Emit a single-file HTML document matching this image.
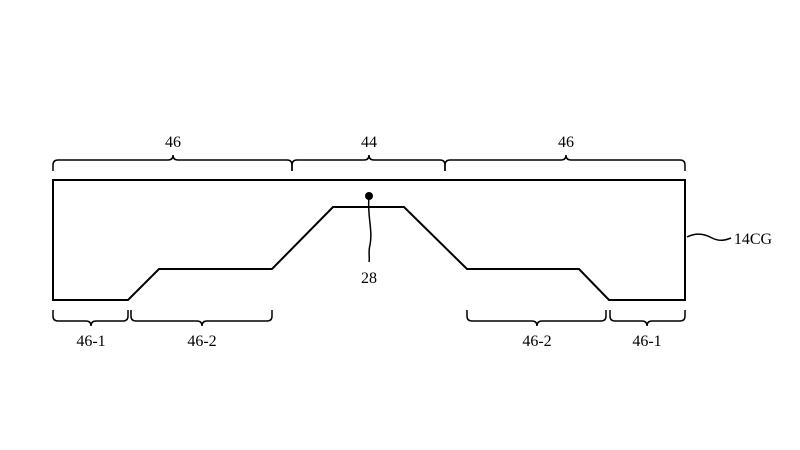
<!DOCTYPE html>
<html><head><meta charset="utf-8"><style>html,body{margin:0;padding:0;background:#fff}svg{display:block}</style></head>
<body>
<svg width="800" height="450" viewBox="0 0 800 450" xmlns="http://www.w3.org/2000/svg">
<g fill="none" stroke="#000" stroke-width="2">
<path d="M53,180 H685 V300 H609 L579,269 H467 L404,207 H333 L272,269 H159 L128,300 H53 Z"/>
</g>
<g fill="none" stroke="#000" stroke-width="1.5">
<!-- top braces -->
<path d="M53,171 V165 Q53,160 58,160 H168 Q173,160 173,155 Q173,160 178,160 H287 Q292,160 292,165 V171"/>
<path d="M292,171 V165 Q292,160 297,160 H364 Q369,160 369,155 Q369,160 374,160 H440 Q445,160 445,165 V171"/>
<path d="M445,171 V165 Q445,160 450,160 H561 Q566,160 566,155 Q566,160 571,160 H680 Q685,160 685,165 V171"/>
<!-- bottom braces -->
<path d="M53,310 V316 Q53,321 58,321 H86 Q91,321 91,326 Q91,321 96,321 H123 Q128,321 128,316 V310"/>
<path d="M131,310 V316 Q131,321 136,321 H197 Q202,321 202,326 Q202,321 207,321 H267 Q272,321 272,316 V310"/>
<path d="M467,310 V316 Q467,321 472,321 H532 Q537,321 537,326 Q537,321 542,321 H601 Q606,321 606,316 V310"/>
<path d="M610,310 V316 Q610,321 615,321 H642 Q647,321 647,326 Q647,321 652,321 H680 Q685,321 685,316 V310"/>
<!-- leaders -->
<path d="M369,197 C367,215 373,230 370,245 C368,252 370,258 369,262"/>
<path d="M687,237 C697,232 705,234 712,238 C720,242 726,240 731,238"/>
</g>
<circle cx="369" cy="196" r="4" fill="#000"/>
<g font-family="Liberation Serif, serif" font-size="16" fill="#000" text-anchor="middle">
<text x="173" y="147">46</text>
<text x="369" y="147">44</text>
<text x="566" y="147">46</text>
<text x="369" y="283">28</text>
<text x="91" y="346">46-1</text>
<text x="202" y="346">46-2</text>
<text x="537" y="346">46-2</text>
<text x="647" y="346">46-1</text>
<text x="753" y="244">14CG</text>
</g>
</svg>
</body></html>
